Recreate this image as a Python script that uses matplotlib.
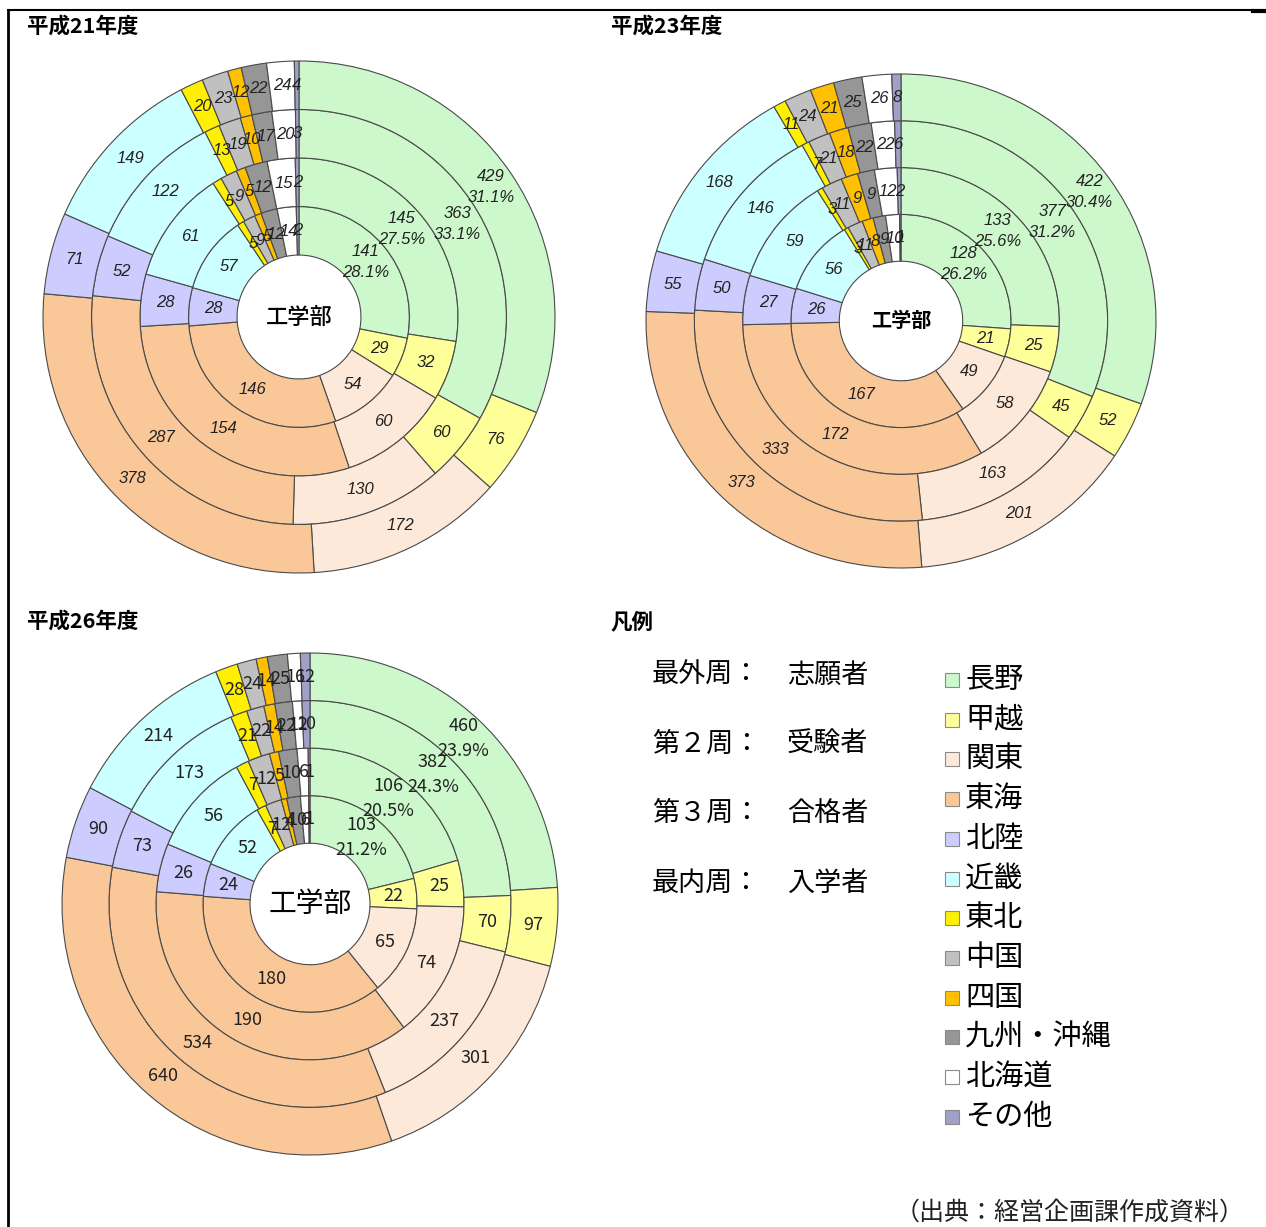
import numpy as np
import matplotlib.pyplot as plt
from matplotlib.patches import Rectangle

plt.rcParams['font.family'] = ['Noto Sans CJK JP', 'DejaVu Sans']

# regions, clockwise from 12 o'clock
regions = ['長野', '甲越', '関東', '東海', '北陸', '近畿', '東北', '中国', '四国', '九州・沖縄', '北海道', 'その他']
colors = ['#CCF8CC', '#FFFF99', '#FDE9DA', '#FAC898', '#CCCCFF', '#CCFFFF',
          '#FFF000', '#C0C0C0', '#FFC000', '#969696', '#FFFFFF', '#A0A0C8']

# 平成21年度
h21_applicants = [429, 76, 172, 378, 71, 149, 20, 23, 12, 22, 24, 4]
h21_examinees = [363, 60, 130, 287, 52, 122, 13, 19, 10, 17, 20, 3]
h21_passed = [145, 32, 60, 154, 28, 61, 5, 9, 5, 12, 15, 2]
h21_enrolled = [141, 29, 54, 146, 28, 57, 5, 9, 5, 12, 14, 2]

# 平成23年度
h23_applicants = [422, 52, 201, 373, 55, 168, 11, 24, 21, 25, 26, 8]
h23_examinees = [377, 45, 163, 333, 50, 146, 7, 21, 18, 22, 22, 6]
h23_passed = [133, 25, 58, 172, 27, 59, 3, 11, 9, 9, 12, 2]
h23_enrolled = [128, 21, 49, 167, 26, 56, 3, 11, 8, 9, 10, 1]

# 平成26年度
h26_applicants = [460, 97, 301, 640, 90, 214, 28, 24, 14, 25, 16, 12]
h26_examinees = [382, 70, 237, 534, 73, 173, 21, 22, 14, 22, 12, 10]
h26_passed = [106, 25, 74, 190, 26, 56, 7, 12, 5, 10, 6, 1]
h26_enrolled = [103, 22, 65, 180, 24, 52, 7, 12, 4, 10, 6, 1]

ring_names = ['最外周：', '第２周：', '第３周：', '最内周：']
ring_meaning = ['志願者', '受験者', '合格者', '入学者']

W, H = 1266, 1227
HOLE = 0.242
W_RING = (1 - HOLE) / 4

fig = plt.figure(figsize=(W / 100, H / 100), dpi=100)
fig.patch.set_facecolor('white')


def draw_donut(cx, cy, rx, ry, rings, num_kw, centre_kw):
    # cx, cy, rx, ry in pixels; rings from inside to outside
    pad = 1.03
    ax = fig.add_axes([(cx - rx * pad) / W, 1 - (cy + ry * pad) / H,
                       2 * rx * pad / W, 2 * ry * pad / H])
    for i, vals in enumerate(rings):
        r_out = HOLE + (i + 1) * W_RING
        wedges, _ = ax.pie(vals, radius=r_out, colors=colors, startangle=90,
                           counterclock=False,
                           wedgeprops=dict(width=W_RING, edgecolor='#4a4a4a', linewidth=0.8))
        r_mid = r_out - W_RING / 2
        total = sum(vals)
        for k, (w, v) in enumerate(zip(wedges, vals)):
            ang = np.deg2rad((w.theta1 + w.theta2) / 2)
            if k == 0:
                s = f'{v}\n{100 * v / total:.1f}%'
            else:
                s = f'{v}'
            ax.text(r_mid * np.cos(ang), r_mid * np.sin(ang), s, ha='center', va='center',
                    linespacing=1.5, color='#222222', **num_kw)
    ax.text(0, 0, '工学部', ha='center', va='center', **centre_kw)
    ax.set_xlim(-pad, pad)
    ax.set_ylim(-pad, pad)
    ax.set_aspect('auto')
    return ax


italic = dict(family=['Liberation Sans'], style='italic', fontsize=12)
upright = dict(family=['Noto Sans CJK JP'], fontsize=13)

draw_donut(299, 317, 256, 256,
           [h21_enrolled, h21_passed, h21_examinees, h21_applicants],
           italic, dict(fontsize=16, fontweight='medium'))
draw_donut(901, 321, 255, 247,
           [h23_enrolled, h23_passed, h23_examinees, h23_applicants],
           italic, dict(fontsize=14.5, fontweight='bold'))
draw_donut(310, 904, 248, 251,
           [h26_enrolled, h26_passed, h26_examinees, h26_applicants],
           upright, dict(fontsize=20))

# overlay in pixel coordinates for titles, legend and frame
ov = fig.add_axes([0, 0, 1, 1])
ov.set_xlim(0, W)
ov.set_ylim(H, 0)
ov.axis('off')

ov.plot([8, 1253], [10, 10], color='black', lw=1.5)
ov.plot([1253, 1266], [11, 11], color='black', lw=3)
ov.plot([8, 8], [10, 1227], color='black', lw=2)

ov.text(27, 26, '平成21年度', fontsize=15.5, fontweight='bold', va='center')
ov.text(611, 26, '平成23年度', fontsize=15.5, fontweight='bold', va='center')
ov.text(27, 621, '平成26年度', fontsize=15.5, fontweight='bold', va='center')
ov.text(611, 622, '凡例', fontsize=15.5, fontweight='bold', va='center')

for i, (name, meaning) in enumerate(zip(ring_names, ring_meaning)):
    y = 675 + 69.3 * i
    ov.text(652, y, name, fontsize=19.5, va='center')
    ov.text(787, y, meaning, fontsize=19.5, va='center')

for i, (reg, c) in enumerate(zip(regions, colors)):
    y = 680 + 39.7 * i
    ov.add_patch(Rectangle((945, y - 7), 14, 14, facecolor=c, edgecolor='#8a8a8a', lw=0.8))
    ov.text(965, y, reg, fontsize=21, va='center')

ov.text(1245, 1213, '（出典：経営企画課作成資料）', fontsize=18, ha='right', va='center',
        color='#222222')

fig.savefig('out.png', dpi=100)
